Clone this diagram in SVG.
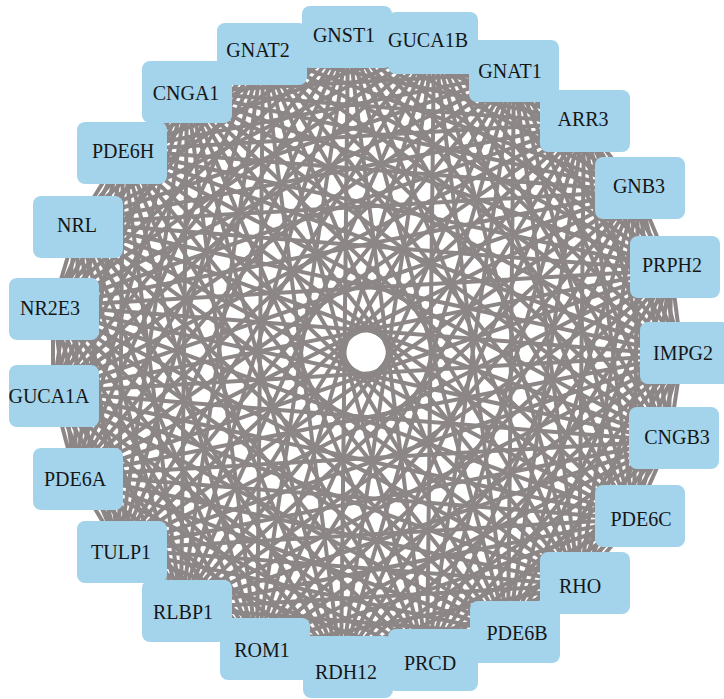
<svg xmlns="http://www.w3.org/2000/svg" width="724" height="699" viewBox="0 0 724 699">
<style>
.e{fill:none;stroke:#8c8786;stroke-width:4;stroke-linejoin:round}
.n rect{fill:#a3d4ec}
.n text{font-family:"Liberation Serif","Times New Roman",serif;font-size:20px;fill:#161616;text-anchor:middle}
</style>
<rect width="724" height="699" fill="#ffffff"/>
<g id="edges">
<path class="e" d="M434 43L348 37L514 73M584 123L348 37L638 191M671 270L348 37L682 355M669 441L348 37L634 519M579 585L348 37L508 634M427 662L348 37L341 667M257 649L348 37L181 608M119 549L348 37L75 475M53 392L348 37L53 306M78 223L348 37L123 150M187 92L348 37L263 53"/>
<path class="e" d="M514 73L434 43L584 123M638 191L434 43L671 270M682 355L434 43L669 441M634 519L434 43L579 585M508 634L434 43L427 662M341 667L434 43L257 649M181 608L434 43L119 549M75 475L434 43L53 392M53 306L434 43L78 223M123 150L434 43L187 92M434 43L263 53"/>
<path class="e" d="M584 123L514 73L638 191M671 270L514 73L682 355M669 441L514 73L634 519M579 585L514 73L508 634M427 662L514 73L341 667M257 649L514 73L181 608M119 549L514 73L75 475M53 392L514 73L53 306M78 223L514 73L123 150M187 92L514 73L263 53"/>
<path class="e" d="M638 191L584 123L671 270M682 355L584 123L669 441M634 519L584 123L579 585M508 634L584 123L427 662M341 667L584 123L257 649M181 608L584 123L119 549M75 475L584 123L53 392M53 306L584 123L78 223M123 150L584 123L187 92M584 123L263 53"/>
<path class="e" d="M671 270L638 191L682 355M669 441L638 191L634 519M579 585L638 191L508 634M427 662L638 191L341 667M257 649L638 191L181 608M119 549L638 191L75 475M53 392L638 191L53 306M78 223L638 191L123 150M187 92L638 191L263 53"/>
<path class="e" d="M682 355L671 270L669 441M634 519L671 270L579 585M508 634L671 270L427 662M341 667L671 270L257 649M181 608L671 270L119 549M75 475L671 270L53 392M53 306L671 270L78 223M123 150L671 270L187 92M671 270L263 53"/>
<path class="e" d="M669 441L682 355L634 519M579 585L682 355L508 634M427 662L682 355L341 667M257 649L682 355L181 608M119 549L682 355L75 475M53 392L682 355L53 306M78 223L682 355L123 150M187 92L682 355L263 53"/>
<path class="e" d="M634 519L669 441L579 585M508 634L669 441L427 662M341 667L669 441L257 649M181 608L669 441L119 549M75 475L669 441L53 392M53 306L669 441L78 223M123 150L669 441L187 92M669 441L263 53"/>
<path class="e" d="M579 585L634 519L508 634M427 662L634 519L341 667M257 649L634 519L181 608M119 549L634 519L75 475M53 392L634 519L53 306M78 223L634 519L123 150M187 92L634 519L263 53"/>
<path class="e" d="M508 634L579 585L427 662M341 667L579 585L257 649M181 608L579 585L119 549M75 475L579 585L53 392M53 306L579 585L78 223M123 150L579 585L187 92M579 585L263 53"/>
<path class="e" d="M427 662L508 634L341 667M257 649L508 634L181 608M119 549L508 634L75 475M53 392L508 634L53 306M78 223L508 634L123 150M187 92L508 634L263 53"/>
<path class="e" d="M341 667L427 662L257 649M181 608L427 662L119 549M75 475L427 662L53 392M53 306L427 662L78 223M123 150L427 662L187 92M427 662L263 53"/>
<path class="e" d="M257 649L341 667L181 608M119 549L341 667L75 475M53 392L341 667L53 306M78 223L341 667L123 150M187 92L341 667L263 53"/>
<path class="e" d="M181 608L257 649L119 549M75 475L257 649L53 392M53 306L257 649L78 223M123 150L257 649L187 92M257 649L263 53"/>
<path class="e" d="M119 549L181 608L75 475M53 392L181 608L53 306M78 223L181 608L123 150M187 92L181 608L263 53"/>
<path class="e" d="M75 475L119 549L53 392M53 306L119 549L78 223M123 150L119 549L187 92M119 549L263 53"/>
<path class="e" d="M53 392L75 475L53 306M78 223L75 475L123 150M187 92L75 475L263 53"/>
<path class="e" d="M53 306L53 392L78 223M123 150L53 392L187 92M53 392L263 53"/>
<path class="e" d="M78 223L53 306L123 150M187 92L53 306L263 53"/>
<path class="e" d="M123 150L78 223L187 92M78 223L263 53"/>
<path class="e" d="M187 92L123 150L263 53"/>
<path class="e" d="M187 92L263 53"/>
</g>
<g id="nodes">
<g id="n-GNAT2" class="n"><rect x="217" y="23" width="90" height="62" rx="8"/><text x="258" y="57">GNAT2</text></g>
<g id="n-GNST1" class="n"><rect x="302" y="6" width="90" height="62" rx="8"/><text x="344" y="42">GNST1</text></g>
<g id="n-GUCA1B" class="n"><rect x="388" y="12" width="90" height="62" rx="8"/><text x="428" y="47">GUCA1B</text></g>
<g id="n-GNAT1" class="n"><rect x="469" y="40" width="90" height="62" rx="8"/><text x="510" y="78">GNAT1</text></g>
<g id="n-ARR3" class="n"><rect x="540" y="90" width="90" height="62" rx="8"/><text x="583" y="126">ARR3</text></g>
<g id="n-GNB3" class="n"><rect x="595" y="157" width="90" height="62" rx="8"/><text x="639" y="193">GNB3</text></g>
<g id="n-PRPH2" class="n"><rect x="630" y="236" width="90" height="62" rx="8"/><text x="672" y="272">PRPH2</text></g>
<g id="n-IMPG2" class="n"><rect x="640" y="322" width="90" height="62" rx="8"/><text x="683" y="360">IMPG2</text></g>
<g id="n-CNGB3" class="n"><rect x="629" y="407" width="90" height="62" rx="8"/><text x="677" y="444">CNGB3</text></g>
<g id="n-PDE6C" class="n"><rect x="595" y="485" width="90" height="62" rx="8"/><text x="641" y="526">PDE6C</text></g>
<g id="n-RHO" class="n"><rect x="540" y="552" width="90" height="62" rx="8"/><text x="580" y="593">RHO</text></g>
<g id="n-PDE6B" class="n"><rect x="470" y="601" width="90" height="62" rx="8"/><text x="517" y="640">PDE6B</text></g>
<g id="n-PRCD" class="n"><rect x="388" y="629" width="90" height="62" rx="8"/><text x="430" y="670">PRCD</text></g>
<g id="n-RDH12" class="n"><rect x="303" y="636" width="90" height="62" rx="8"/><text x="346" y="679">RDH12</text></g>
<g id="n-ROM1" class="n"><rect x="220" y="618" width="90" height="62" rx="8"/><text x="262" y="657">ROM1</text></g>
<g id="n-RLBP1" class="n"><rect x="142" y="580" width="90" height="62" rx="8"/><text x="183" y="619">RLBP1</text></g>
<g id="n-TULP1" class="n"><rect x="77" y="521" width="90" height="62" rx="8"/><text x="121" y="559">TULP1</text></g>
<g id="n-PDE6A" class="n"><rect x="33" y="448" width="90" height="62" rx="8"/><text x="75" y="486">PDE6A</text></g>
<g id="n-GUCA1A" class="n"><rect x="9" y="365" width="90" height="62" rx="8"/><text x="49" y="403">GUCA1A</text></g>
<g id="n-NR2E3" class="n"><rect x="9" y="278" width="90" height="62" rx="8"/><text x="50" y="315">NR2E3</text></g>
<g id="n-NRL" class="n"><rect x="33" y="196" width="90" height="62" rx="8"/><text x="77" y="232">NRL</text></g>
<g id="n-PDE6H" class="n"><rect x="77" y="122" width="90" height="62" rx="8"/><text x="123" y="158">PDE6H</text></g>
<g id="n-CNGA1" class="n"><rect x="142" y="61" width="90" height="62" rx="8"/><text x="186" y="100">CNGA1</text></g>
</g>
</svg>
